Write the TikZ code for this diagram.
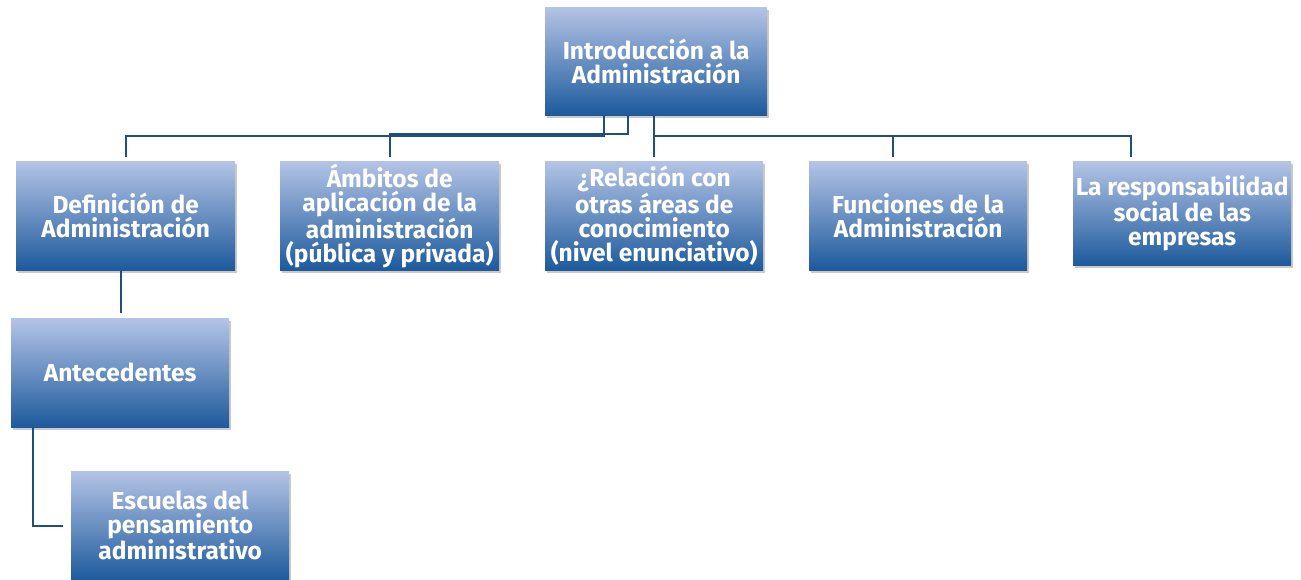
\documentclass[tikz,border=0pt]{standalone}
\usepackage{fontspec}
\setmainfont{Fira Sans}
\usetikzlibrary{shadows,calc}
\definecolor{boxtop}{HTML}{B4C4E6}
\definecolor{boxbot}{HTML}{1D5A9C}
\definecolor{linecol}{HTML}{1F4F7F}
\tikzset{
  box/.style={anchor=north west, minimum width=219pt, minimum height=109pt,
    inner sep=0pt, align=center, text=white,
    top color=boxtop, bottom color=boxbot,
    font=\fontsize{24.5}{24}\selectfont\bfseries,
    drop shadow={shadow xshift=2pt, shadow yshift=-3pt, opacity=0.35, fill=black!60}},
  conn/.style={draw=linecol, line width=1.8pt}
}
\begin{document}
\begin{tikzpicture}[x=1pt,y=-1pt]
\useasboundingbox (0,0) rectangle (1301,580);
\node[box, minimum width=222pt, minimum height=108pt] (root) at (545,7) {Introducción a la\\Administración};
\node[box] (def) at (16,161) {Definición de\\Administración};
\node[box] (amb) at (280,161) {Ámbitos de\\aplicación de la\\administración\\(pública y privada)};
\node[box, minimum width=218pt] (rel) at (545,161) {¿Relación con\\otras áreas de\\conocimiento\\(nivel enunciativo)};
\node[box, minimum width=218pt] (fun) at (809,161) {Funciones de la\\Administración};
\node[box, minimum width=218pt, minimum height=104pt] (res) at (1073,161) {La responsabilidad\\social de las\\empresas};
\node[box, minimum width=218pt] (ant) at (11,318) {Antecedentes};
\node[box, minimum width=218pt] (esc) at (71,471) {Escuelas del\\pensamiento\\administrativo};

\draw[conn] ([xshift=-52pt]root.south) -- ++(0,21) -| ([yshift=4pt]def.north);
\draw[conn] ([xshift=-28pt]root.south) -- ++(0,19) -| ([yshift=4pt]amb.north);
\draw[conn] ([xshift=-2pt]root.south) -- ([yshift=4pt]rel.north);
\draw[conn] ([xshift=-2pt]root.south) ++(0,21) -| ([xshift=-25pt,yshift=4pt]fun.north);
\draw[conn] ([xshift=-2pt]root.south) ++(0,21) -| ([xshift=-51pt,yshift=4pt]res.north);
\draw[conn] ([xshift=-4.5pt]def.south) coordinate (p) -- ($(p |- ant.north)+(0,-5)$);
\draw[conn] ([xshift=22pt]ant.south west) |- ([xshift=-8pt]esc.west);
\end{tikzpicture}
\end{document}
